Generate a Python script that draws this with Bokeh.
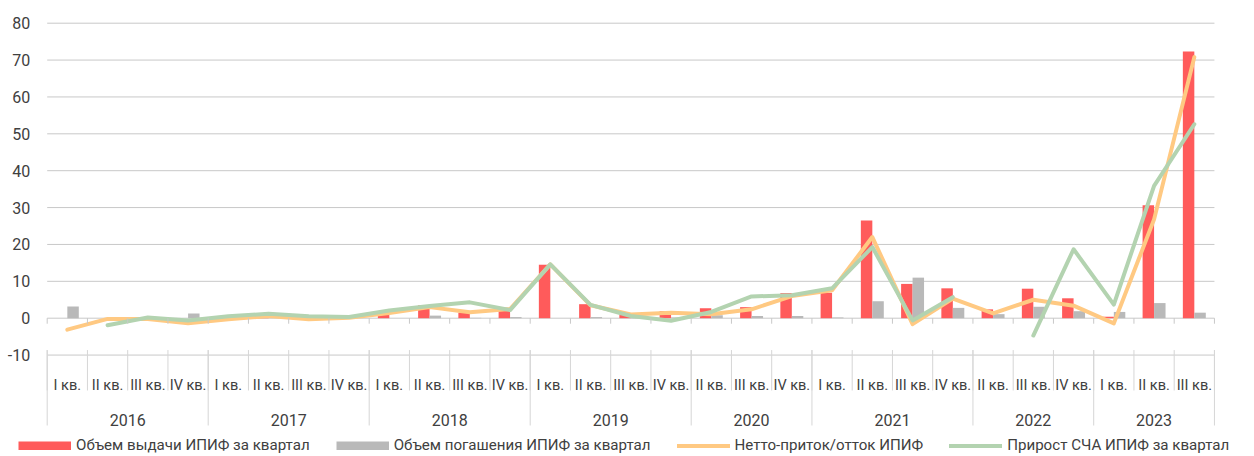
import numpy as np
from bokeh.plotting import figure
from bokeh.models import ColumnDataSource, Range1d, Legend, LegendItem
from bokeh.transform import dodge
from bokeh.core.properties import value
from bokeh.embed import file_html
from bokeh.resources import INLINE

# ---------------- data ----------------
years = (["2016"] * 4 + ["2017"] * 4 + ["2018"] * 4 + ["2019"] * 4 +
         ["2020"] * 3 + ["2021"] * 4 + ["2022"] * 3 + ["2023"] * 3)
quarters = (["I кв.", "II кв.", "III кв.", "IV кв."] * 4 +
            ["II кв.", "III кв.", "IV кв."] +
            ["I кв.", "II кв.", "III кв.", "IV кв."] +
            ["II кв.", "III кв.", "IV кв."] +
            ["I кв.", "II кв.", "III кв."])

issuance = [0, 0, 0, 0, 0, 0.4, 0, 0, 1.4, 3.5, 1.5, 2.1, 14.5, 3.8, 0.9, 1.9,
            2.7, 3.0, 6.8, 6.9, 26.5, 9.3, 8.1, 2.4, 8.0, 5.4, 0.4, 30.6, 72.3]
redemption = [3.2, 0, 0, 1.3, 0, 0, 0, 0, 0, 0.7, 0.1, 0.3, 0, 0.3, 0.2, 0.2,
              0.8, 0.6, 0.6, 0.2, 4.6, 11.0, 2.8, 1.1, 3.1, 1.9, 1.7, 4.1, 1.5]
net_flow = [-3.1, -0.2, -0.2, -1.4, -0.3, 0.6, -0.3, 0.1, 1.4, 3.0, 1.6, 2.5, 14.6, 3.5, 1.0, 1.5,
            1.1, 2.4, 6.0, 7.6, 22.0, -1.6, 5.3, 1.3, 5.0, 3.4, -1.4, 26.8, 70.8]
nav_growth = [np.nan, -1.9, 0.2, -0.6, 0.5, 1.2, 0.5, 0.3, 2.1, 3.3, 4.3, 2.2, 14.6, 3.6, 0.6, -0.7,
              1.7, 5.9, 6.2, 8.1, 19.3, -0.6, 5.7, np.nan, -4.7, 18.7, 3.7, 35.9, 52.6]

y_ticks = [-10, 0, 10, 20, 30, 40, 50, 60, 70, 80]

labels = ["Объем выдачи ИПИФ за квартал", "Объем погашения ИПИФ за квартал",
          "Нетто-приток/отток ИПИФ", "Прирост СЧА ИПИФ за квартал"]

# ---------------- styles ----------------
RED = "#FF5B5B"
GRAY = "#B9B9B9"
ORANGE = "#FFC982"
GREEN = "#B3D3B0"
TEXT = "#404040"
GRID = "#C8C8C8"
SEP = "#D6D6D6"
FONT = "Roboto"

W, H = 1250, 454
PX_X = 40.25          # pixels per category
PX_Y = 3.6875         # pixels per unit
ZERO_Y = 317.7        # pixel row of the zero line
LEFT_PX = 46.7        # pixel column of the first category's left edge
n = len(quarters)
idx = np.arange(n)

src = ColumnDataSource(dict(idx=idx, issuance=issuance, redemption=redemption,
                            net=np.array(net_flow, dtype=float),
                            nav=np.array(nav_growth, dtype=float),
                            qlabel=quarters))

x_lo = -0.5 - LEFT_PX / PX_X
x_hi = x_lo + W / PX_X
p = figure(width=W, height=H,
           x_range=Range1d(x_lo, x_hi),
           y_range=Range1d((ZERO_Y - H) / PX_Y, ZERO_Y / PX_Y),
           x_axis_location=None, y_axis_location=None,
           output_backend="svg", toolbar_location=None, min_border=0)
p.outline_line_color = None
p.grid.visible = False
p.background_fill_color = "white"
p.border_fill_color = "white"

# horizontal grid lines over the category span, with value labels
x_left, x_right = -0.5, n - 0.5
p.segment(x0=x_left, x1=x_right, y0=y_ticks, y1=y_ticks, line_color=GRID, line_width=1)
p.text(x=[x_left] * len(y_ticks), y=y_ticks, text=[str(t) for t in y_ticks],
       x_offset=-17, text_align="right", text_baseline="middle",
       text_font=value(FONT), text_font_size="16px", text_color=TEXT)

# bars
p.vbar(x=dodge("idx", -0.1425), top="issuance", width=0.285,
       source=src, fill_color=RED, line_color=None)
p.vbar(x=dodge("idx", 0.1425), top="redemption", width=0.285,
       source=src, fill_color=GRAY, line_color=None)

# lines
r_net = p.line(x="idx", y="net", source=src, line_color=ORANGE, line_width=4,
               line_join="round", line_cap="round")
r_nav = p.line(x="idx", y="nav", source=src, line_color=GREEN, line_width=4,
               line_join="round", line_cap="round")

# category boundaries
bounds = list(idx - 0.5) + [n - 0.5]
year_bounds = [k - 0.5 for k in range(n) if k == 0 or years[k] != years[k - 1]] + [n - 0.5]
p.segment(x0=bounds, x1=bounds, y0=0, y1=-1.5, line_color=GRID, line_width=1)
p.segment(x0=bounds, x1=bounds, y0=-8.64, y1=-19.6, line_color=SEP, line_width=1)
p.segment(x0=year_bounds, x1=year_bounds, y0=-8.64, y1=-29.1, line_color=SEP, line_width=1)

# category labels
p.text(x="idx", y=-18.25, text="qlabel", source=src, text_font=value(FONT),
       text_font_size="14.5px", text_color=TEXT, text_align="center",
       text_baseline="alphabetic")
year_groups = list(dict.fromkeys(years))
year_x = [float(np.mean([k for k in range(n) if years[k] == g])) for g in year_groups]
p.text(x=year_x, y=[-27.55] * len(year_groups), text=year_groups,
       text_font=value(FONT), text_font_size="16px", text_color=TEXT,
       text_align="center", text_baseline="alphabetic")

# legend (proxies for bars carry no visible data)
nan2 = [np.nan, np.nan]
leg_red = p.line(x=nan2, y=nan2, line_color=RED, line_width=9)
leg_gray = p.line(x=nan2, y=nan2, line_color=GRAY, line_width=9)

legend = Legend(items=[LegendItem(label=labels[0], renderers=[leg_red]),
                       LegendItem(label=labels[1], renderers=[leg_gray]),
                       LegendItem(label=labels[2], renderers=[r_net]),
                       LegendItem(label=labels[3], renderers=[r_nav])],
                location=(18, 0), orientation="horizontal",
                glyph_width=53, glyph_height=9, label_height=9, label_standoff=5,
                spacing=26, padding=0, margin=0, border_line_color=None,
                background_fill_alpha=0, label_text_font=FONT,
                label_text_font_size="15.1px", label_text_color=TEXT)
p.add_layout(legend)

open("out.html", "w").write(file_html(p, INLINE))
